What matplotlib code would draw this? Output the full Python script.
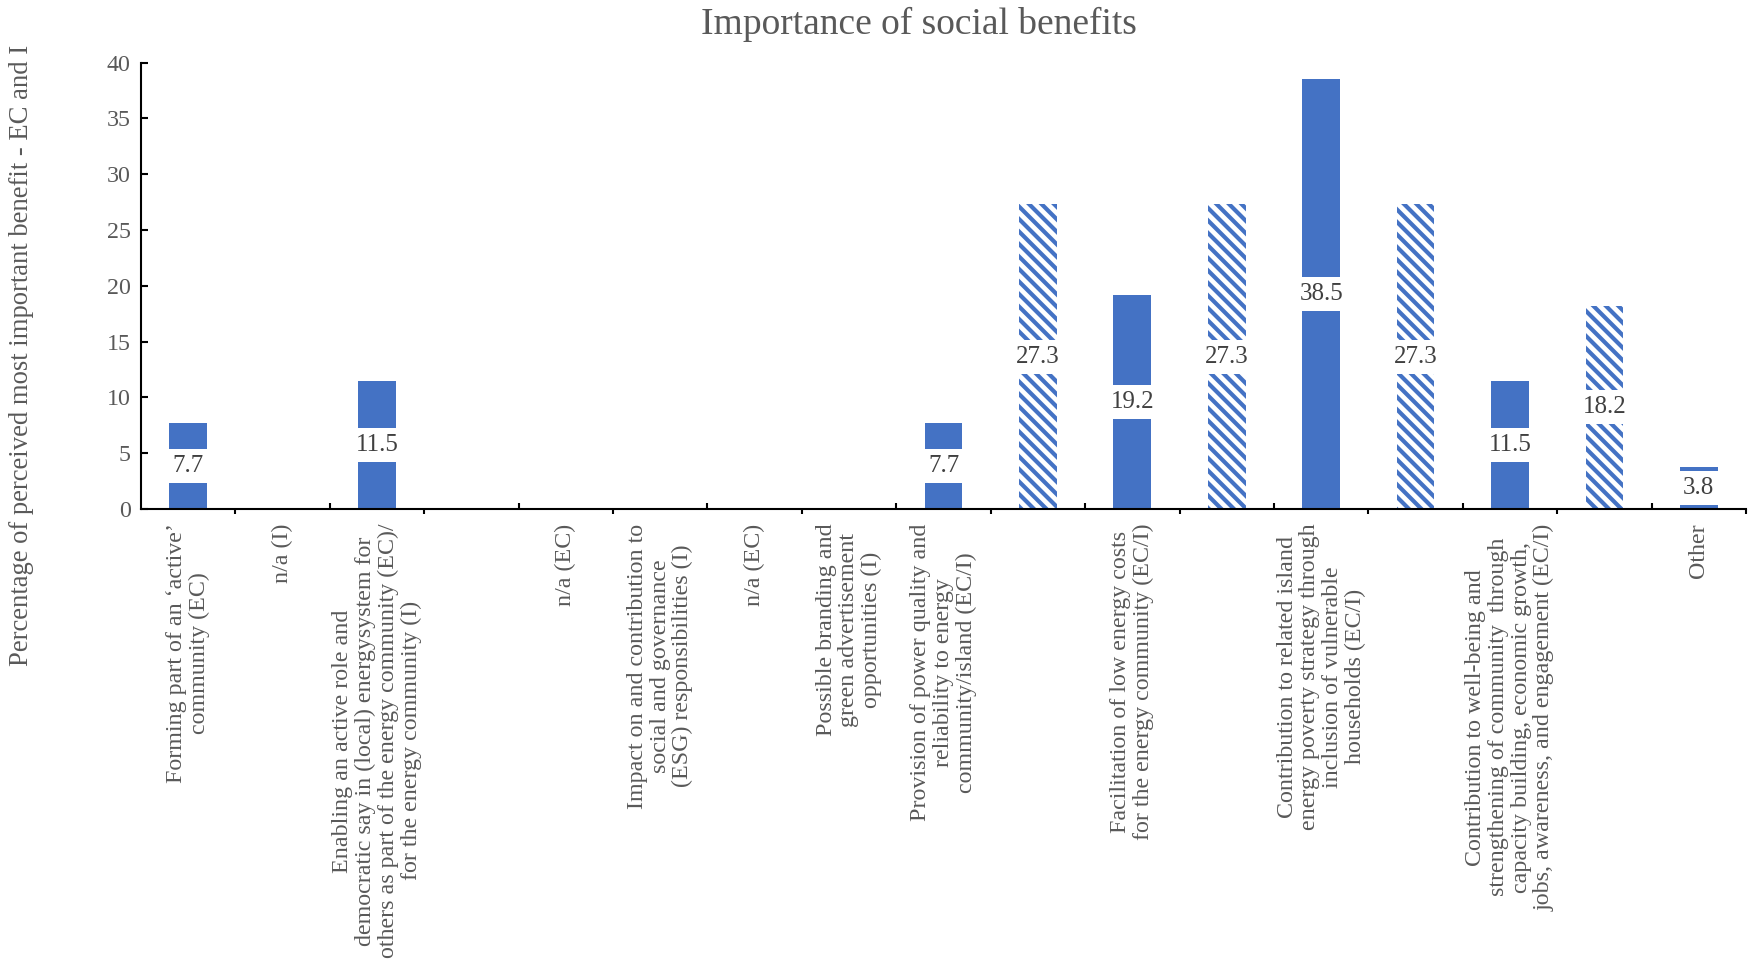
import matplotlib

matplotlib.use('Agg')

import matplotlib.pyplot as plt
import numpy as np

# chart data
categories = [
    "Forming part of an \u2018active\u2019\ncommunity (EC)",
    "n/a (I)",
    "Enabling an active role and\ndemocratic say in (local) energysystem for\nothers as part of the energy community (EC)/\nfor the energy community (I)",
    "",
    "n/a (EC)",
    "Impact on and contribution to\nsocial and governance\n(ESG) responsibilities (I)",
    "n/a (EC)",
    "Possible branding and\ngreen advertisement\nopportunities (I)",
    "Provision of power quality and\nreliability to energy\ncommunity/island (EC/I)",
    "",
    "Facilitation of low energy costs\nfor the energy community (EC/I)",
    "",
    "Contribution to related island\nenergy poverty strategy through\ninclusion of vulnerable\nhouseholds (EC/I)",
    "",
    "Contribution to well-being and\nstrengthening of community  through\ncapacity building, economic growth,\njobs, awareness, and engagement (EC/I)",
    "",
    "Other",
]
values = [7.7, 0, 11.5, 0, 0, 0, 0, 0, 7.7, 27.3, 19.2, 27.3, 38.5, 27.3, 11.5, 18.2, 3.8]
groups = ['EC', 'I', 'EC', 'I', 'EC', 'I', 'EC', 'I', 'EC', 'I', 'EC', 'I', 'EC', 'I', 'EC', 'I', 'EC']
y_ticks = [0, 5, 10, 15, 20, 25, 30, 35, 40]

title = 'Importance of social benefits'
y_label = 'Percentage of perceived most important benefit - EC and I'

blue = '#4472C4'
grey = '#595959'
stripes = chr(92) * 4  # four backslashes -> dense "\" hatch

plt.rcParams['font.family'] = ['Liberation Serif', 'DejaVu Serif']
plt.rcParams['hatch.linewidth'] = 2.0

W, H, DPI = 1749, 963, 150
fig = plt.figure(figsize=(W / DPI, H / DPI), dpi=DPI)

# plot area in pixels of the reference
left, right, top, bottom = 141, 1746, 62.7, 509
ax = fig.add_axes([left / W, 1 - bottom / H, (right - left) / W, (bottom - top) / H])

n = len(categories)
x = np.arange(n) + 0.5

for xi, v, g in zip(x, values, groups):
    if g == 'EC':
        ax.bar(xi, v, width=0.4, color=blue, linewidth=0, zorder=2)
    else:
        ax.bar(xi, v, width=0.4, facecolor='white', edgecolor=blue, hatch=stripes,
               linewidth=0, zorder=2)
    if v > 0:
        ax.text(xi, v / 2, '%.1f' % v, ha='center', va='center', fontsize=12,
                color='#404040', zorder=3,
                bbox=dict(boxstyle='square,pad=0.24', fc='white', ec='none'))

ax.set_xlim(0, n)
ax.set_ylim(0, 40)
ax.set_yticks(y_ticks)
ax.tick_params(axis='y', direction='in', length=3.4, width=1, labelsize=11.5,
               labelcolor=grey, pad=5)

ax.set_xticks(x)
ax.set_xticklabels(categories, rotation=90, ha='center', va='top',
                   multialignment='center', fontsize=11.5, color=grey,
                   linespacing=1.1)
ax.tick_params(axis='x', which='major', length=0, pad=7)

# boundary ticks: odd ones point out, even ones point in
ax.set_xticks(np.arange(1, n + 1, 2), minor=True)
ax.tick_params(axis='x', which='minor', direction='out', length=2.5, width=1)

ax2 = ax.twiny()
ax2.set_xlim(ax.get_xlim())
ax2.xaxis.set_ticks_position('bottom')
ax2.set_xticks(np.arange(2, n, 2))
ax2.tick_params(axis='x', direction='in', length=3, width=1, labelbottom=False,
                labeltop=False)
for s in ax2.spines.values():
    s.set_visible(False)

for s in ['top', 'right']:
    ax.spines[s].set_visible(False)
for s in ['left', 'bottom']:
    ax.spines[s].set_linewidth(1)
    ax.spines[s].set_color('black')

fig.text(919 / W, 1 - 24 / H, title, ha='center', va='center', fontsize=18, color=grey)
fig.text(22 / W, 1 - 355 / H, y_label, ha='center', va='center', rotation=90,
         fontsize=12.8, color=grey)

fig.savefig('out.png', dpi=DPI)
